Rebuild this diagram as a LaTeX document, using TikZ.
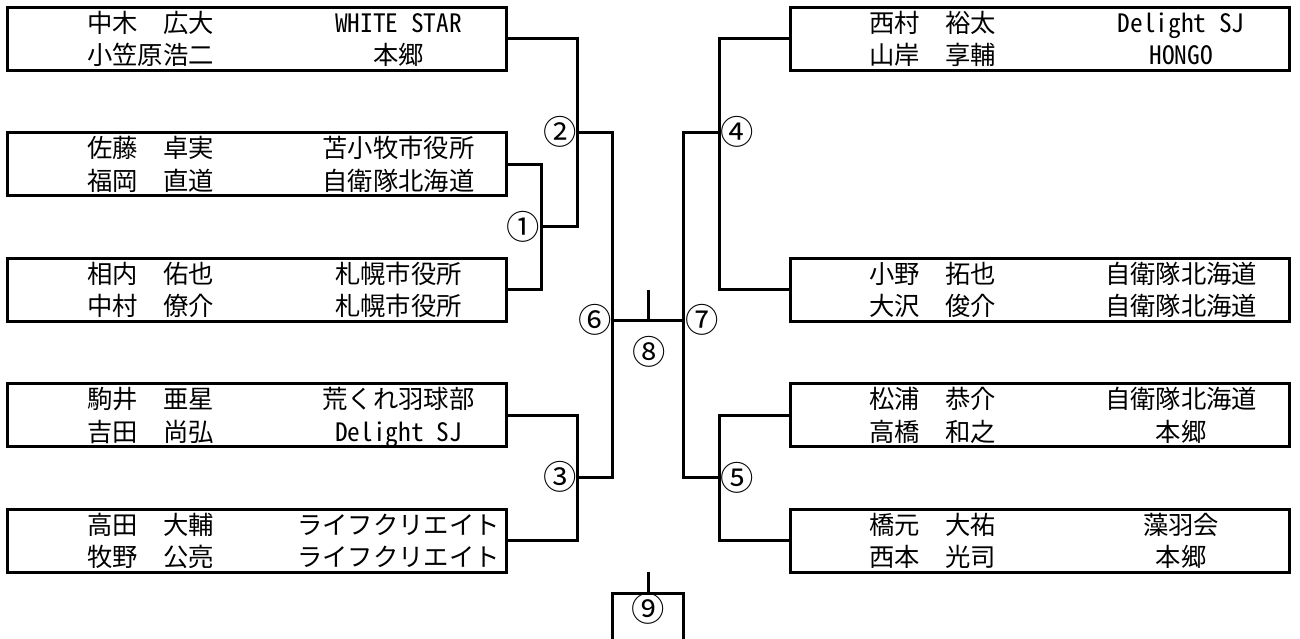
\documentclass[tikz,border=0pt]{standalone}
\usepackage{fontspec}
\setmainfont{Noto Sans CJK JP}
\newfontfamily\hwfont[RawFeature=+hwid]{Noto Sans CJK JP}
\begin{document}
\begin{tikzpicture}[x=0.75pt,y=-0.75pt, line width=2.25pt,
  pbox/.style={draw, rectangle, minimum width=374.25pt, minimum height=47.25pt, inner sep=0pt},
  txt/.style={inner sep=0pt, text height=16.7pt, text depth=2.3pt, font=\fontsize{19}{22}\selectfont},
  lbl/.style={inner sep=0pt, font=\fontsize{25}{28}\selectfont}]
\fill[white] (0,0) rectangle (1300,639);
\useasboundingbox (0,0) rectangle (1300,639);
\newcommand\pbox[7]{%
  \node[pbox] (#1) at (#2+249.5,#3) {};
  \node[txt,anchor=west] (#1a) at (#2+78,#3-16) {#4};
  \node[txt] (#1b) at (#2+391,#3-16) {#5};
  \node[txt,anchor=west] (#1c) at (#2+78,#3+16.5) {#6};
  \node[txt] (#1d) at (#2+391,#3+16.5) {#7};
}
\pbox{b1}{7.5}{38.5}{中木　広大}{{\hwfont WHITE STAR}}{小笠原浩二}{本郷}
\pbox{b2}{7.5}{164}{佐藤　卓実}{苫小牧市役所}{福岡　直道}{自衛隊北海道}
\pbox{b3}{7.5}{289.5}{相内　佑也}{札幌市役所}{中村　僚介}{札幌市役所}
\pbox{b4}{7.5}{415}{駒井　亜星}{荒くれ羽球部}{吉田　尚弘}{{\hwfont Delight SJ}}
\pbox{b5}{7.5}{540.5}{高田　大輔}{ライフクリエイト}{牧野　公亮}{ライフクリエイト}
\pbox{r1}{790}{38.5}{西村　裕太}{{\hwfont Delight SJ}}{山岸　享輔}{{\hwfont HONGO}}
\pbox{r2}{790}{289.5}{小野　拓也}{自衛隊北海道}{大沢　俊介}{自衛隊北海道}
\pbox{r3}{790}{415}{松浦　恭介}{自衛隊北海道}{高橋　和之}{本郷}
\pbox{r4}{790}{540.5}{橋元　大祐}{藻羽会}{西本　光司}{本郷}

\coordinate (j1) at (541.7,226.75);
\coordinate (j2) at (577.5,132.7);
\coordinate (j3) at (577.5,477.75);
\coordinate (j4) at (719.3,132.7);
\coordinate (j5) at (719.3,477.75);
\coordinate (j6) at (612.7,320.7);
\coordinate (j7) at (683.3,320.7);
\coordinate (j8) at (648.3,290);
\coordinate (t9) at (648.3,571.7);
\coordinate (k9) at (648.3,593.3);
\coordinate (k9l) at (612.3,639);
\coordinate (k9r) at (683.3,639);

\draw (b2.east) -| (j1) |- (b3.east);
\draw (b1.east) -| (j2) |- (j1);
\draw (b4.east) -| (j3) |- (b5.east);
\draw (j2) -| (j6) |- (j3);
\draw (r1.west) -| (j4) |- (r2.west);
\draw (r3.west) -| (j5) |- (r4.west);
\draw (j4) -| (j7) |- (j5);
\draw (j6) -- (j7);
\draw (j8) -- (j8 |- j6);
\draw (t9) -- (k9);
\draw (k9l) |- (k9) -| (k9r);

\node[lbl] (l1) at (523.3,226.7) {①};
\node[lbl] (l2) at (560,132) {②};
\node[lbl] (l3) at (560,477) {③};
\node[lbl] (l4) at (737,132) {④};
\node[lbl] (l5) at (737,478) {⑤};
\node[lbl] (l6) at (595,320) {⑥};
\node[lbl] (l7) at (701.7,320) {⑦};
\node[lbl] (l8) at (649.3,351.7) {⑧};
\node[lbl] (l9) at (648.3,609.3) {⑨};
\end{tikzpicture}
\end{document}
